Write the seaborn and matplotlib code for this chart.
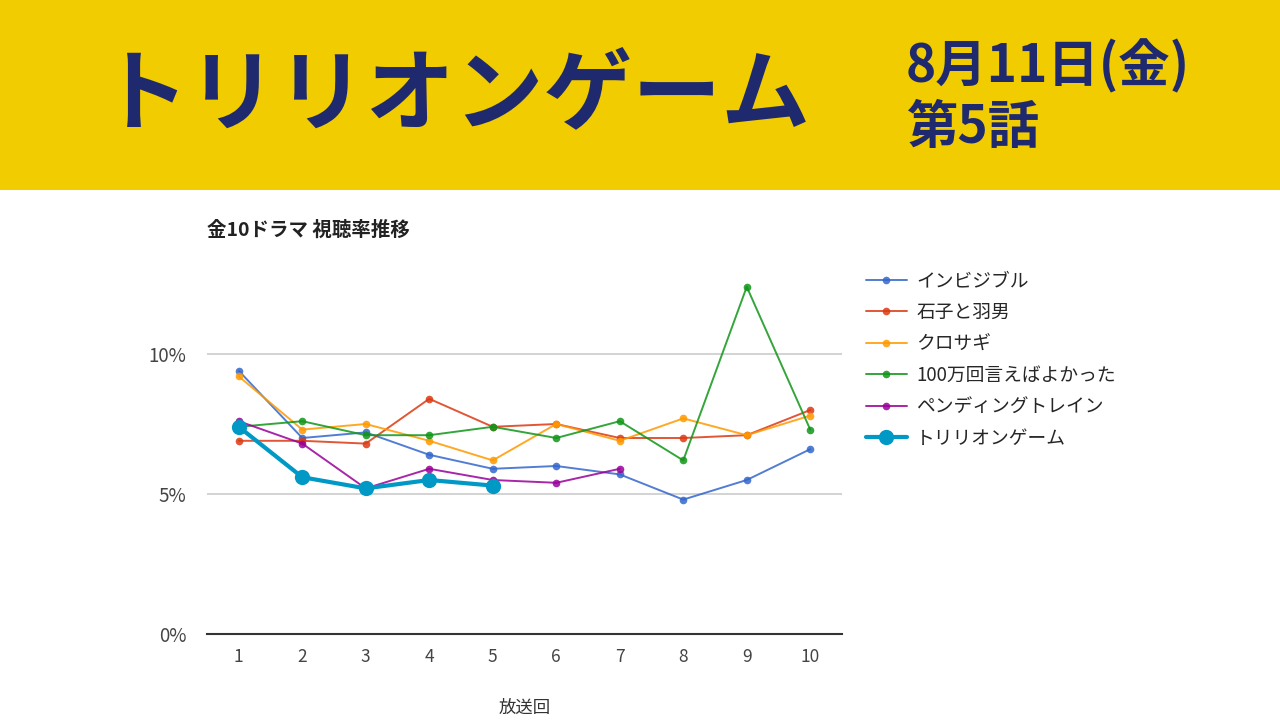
import matplotlib
matplotlib.use("Agg")
import matplotlib.pyplot as plt
import seaborn as sns
import pandas as pd
from matplotlib.patches import Rectangle

episodes = [1, 2, 3, 4, 5, 6, 7, 8, 9, 10]
invisible = [9.4, 7.0, 7.2, 6.4, 5.9, 6.0, 5.7, 4.8, 5.5, 6.6]
ishiko = [6.9, 6.9, 6.8, 8.4, 7.4, 7.5, 7.0, 7.0, 7.1, 8.0]
kurosagi = [9.2, 7.3, 7.5, 6.9, 6.2, 7.5, 6.9, 7.7, 7.1, 7.8]
hyakuman = [7.4, 7.6, 7.1, 7.1, 7.4, 7.0, 7.6, 6.2, 12.4, 7.3]
pending = [7.6, 6.8, 5.2, 5.9, 5.5, 5.4, 5.9]
trillion = [7.4, 5.6, 5.2, 5.5, 5.3]

series_names = ["インビジブル", "石子と羽男", "クロサギ", "100万回言えばよかった",
                "ペンディングトレイン", "トリリオンゲーム"]
series_values = [invisible, ishiko, kurosagi, hyakuman, pending, trillion]
colors = ["#3366CC", "#DC3912", "#FF9900", "#109618", "#990099", "#0099C6"]

yticks = [0, 5, 10]
ytick_labels = ["0%", "5%", "10%"]

sns.set_theme(style="white")
plt.rcParams['font.family'] = ['Noto Sans CJK JP', 'DejaVu Sans']

fig = plt.figure(figsize=(12.8, 7.2), dpi=100)
fig.patch.set_facecolor("white")

# banner
fig.patches.append(Rectangle((0, 1 - 190 / 720), 1, 190 / 720, transform=fig.transFigure,
                             facecolor="#F0CC00", edgecolor="none", zorder=0))
navy = "#1F2A6E"
fig.text(455 / 1280, 1 - 96 / 720, "トリリオンゲーム", fontsize=64, fontweight="bold",
         color=navy, ha="center", va="center")
fig.text(906 / 1280, 1 - 66 / 720, "8月11日(金)", fontsize=37, fontweight="bold",
         color=navy, ha="left", va="center")
fig.text(906 / 1280, 1 - 128 / 720, "第5話", fontsize=37, fontweight="bold",
         color=navy, ha="left", va="center")

ax = fig.add_axes([207 / 1280, 86 / 720, 635 / 1280, 364 / 720])

rows = []
for name, vals in zip(series_names, series_values):
    for ep, v in zip(episodes, vals):
        rows.append({"ep": ep, "rating": v, "series": name})
df = pd.DataFrame(rows)

for i, (name, col) in enumerate(zip(series_names, colors)):
    sub = df[df["series"] == name]
    big = name == "トリリオンゲーム"
    sns.lineplot(data=sub, x="ep", y="rating", ax=ax, color=col,
                 linewidth=3.0 if big else 1.4, marker="o",
                 markersize=11 if big else 5.5, markeredgewidth=0,
                 label=name, zorder=10 if big else 3 + i, alpha=1.0 if big else 0.85)

ax.set_xlim(0.5, 10.5)
ax.set_ylim(0, 13)
ax.set_xticks(episodes)
ax.set_xticklabels([str(e) for e in episodes], fontsize=12.5, color="#444444")
ax.set_yticks(yticks)
ax.set_yticklabels(ytick_labels, fontsize=13.5, color="#444444")
ax.tick_params(axis="both", length=0, pad=10)
ax.tick_params(axis="y", pad=15)
ax.grid(False)
for yv in [5, 10]:
    ax.axhline(yv, color="#CCCCCC", linewidth=1.2, zorder=1)
for s in ["left", "right", "top"]:
    ax.spines[s].set_visible(False)
ax.spines["bottom"].set_color("#333333")
ax.spines["bottom"].set_linewidth(1.5)
ax.set_xlabel("放送回", fontsize=12.5, color="#333333", labelpad=24)
ax.set_ylabel("")

fig.text(207 / 1280, 1 - 230 / 720, "金10ドラマ 視聴率推移", fontsize=14, fontweight="bold",
         color="#222222", ha="left", va="center")

handles, labels = ax.get_legend_handles_labels()
ax.legend(handles, labels, loc="upper left", bbox_to_anchor=(858 / 1280, 1 - 263 / 720),
          bbox_transform=fig.transFigure, frameon=False, fontsize=13.5,
          handlelength=2.2, labelspacing=0.56, handletextpad=0.5, borderaxespad=0)

fig.savefig("out.png", dpi=100)
